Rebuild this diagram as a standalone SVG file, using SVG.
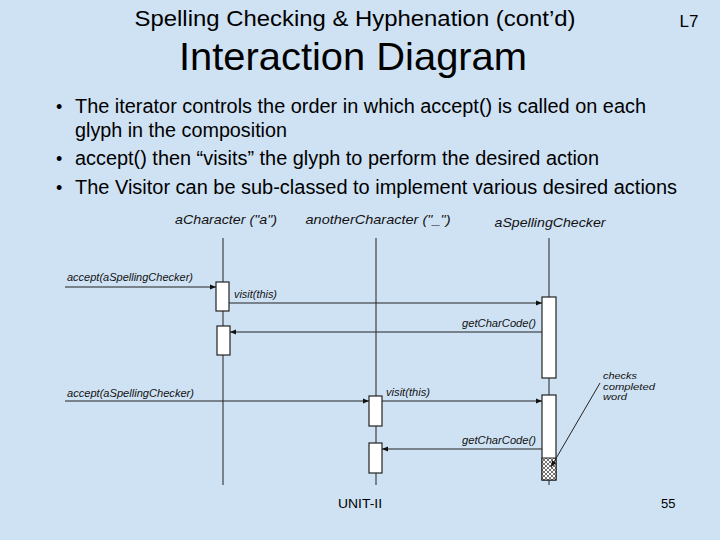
<svg xmlns="http://www.w3.org/2000/svg" width="720" height="540" viewBox="0 0 720 540">
<defs>
<marker id="ah" viewBox="0 0 10 10" refX="10" refY="5" markerWidth="8" markerHeight="6" markerUnits="userSpaceOnUse" orient="auto">
<path d="M0,1 L10,5 L0,9 z" fill="#111"/>
</marker>
<pattern id="hatch" width="4" height="4" patternUnits="userSpaceOnUse">
<rect width="4" height="4" fill="#fff"/>
<path d="M0,4 L4,0 M0,0 L4,4" stroke="#333" stroke-width="0.7"/>
</pattern>
<style>
.t{font-family:"Liberation Sans",Arial,sans-serif;fill:#000}
.h{font-family:"Liberation Sans",Arial,sans-serif;font-style:italic;font-size:13px;fill:#111}
.m{font-family:"Liberation Sans",Arial,sans-serif;font-style:italic;font-size:10.5px;fill:#111}
.n{font-family:"Liberation Sans",Arial,sans-serif;font-style:italic;font-size:9.5px;fill:#111}
.life{stroke:#222;stroke-width:1;fill:none}
.act{fill:#fff;stroke:#222;stroke-width:1.2}
.msg{stroke:#222;stroke-width:1;fill:none;marker-end:url(#ah)}
</style>
</defs>
<rect width="720" height="540" fill="#cfe2f4"/>

<g id="title">
<text class="t" x="355" y="26" font-size="22" text-anchor="middle" textLength="441" lengthAdjust="spacingAndGlyphs">Spelling Checking &amp; Hyphenation (cont’d)</text>
<text class="t" x="689" y="27" font-size="17" text-anchor="middle">L7</text>
<text class="t" x="353" y="70" font-size="39" text-anchor="middle" textLength="348" lengthAdjust="spacingAndGlyphs">Interaction Diagram</text>
</g>

<g id="bullets" class="t" font-size="20">
<text x="56" y="113" font-size="18">•</text>
<text x="75" y="113" textLength="571" lengthAdjust="spacingAndGlyphs">The iterator controls the order in which accept() is called on each</text>
<text x="75" y="137" textLength="212" lengthAdjust="spacingAndGlyphs">glyph in the composition</text>
<text x="56" y="165" font-size="18">•</text>
<text x="75" y="165" textLength="524" lengthAdjust="spacingAndGlyphs">accept() then “visits” the glyph to perform the desired action</text>
<text x="56" y="194" font-size="18">•</text>
<text x="75" y="194" textLength="602" lengthAdjust="spacingAndGlyphs">The Visitor can be sub-classed to implement various desired actions</text>
</g>

<g id="aCharacter">
<text class="h" x="226" y="224" text-anchor="middle" textLength="102" lengthAdjust="spacingAndGlyphs">aCharacter ("a")</text>
<line class="life" x1="223" y1="238" x2="223" y2="485"/>
<rect class="act" x="216" y="282" width="13" height="29"/>
<rect class="act" x="217" y="326" width="13" height="29"/>
</g>

<g id="anotherCharacter">
<text class="h" x="378" y="224" text-anchor="middle" textLength="145" lengthAdjust="spacingAndGlyphs">anotherCharacter ("_")</text>
<line class="life" x1="376" y1="238" x2="376" y2="485"/>
<rect class="act" x="369" y="396" width="13" height="30"/>
<rect class="act" x="369" y="443" width="13" height="30"/>
</g>

<g id="aSpellingChecker">
<text class="h" x="550" y="227" text-anchor="middle" textLength="111" lengthAdjust="spacingAndGlyphs">aSpellingChecker</text>
<line class="life" x1="549" y1="238" x2="549" y2="485"/>
<rect class="act" x="542" y="297" width="14" height="81"/>
<rect class="act" x="542" y="395" width="14" height="85"/>
<rect x="542" y="458" width="14" height="22" fill="url(#hatch)" stroke="#222" stroke-width="1"/>
</g>

<g id="note">
<text class="n" x="603" y="379" textLength="34" lengthAdjust="spacingAndGlyphs">checks</text>
<text class="n" x="603" y="389.5" textLength="52" lengthAdjust="spacingAndGlyphs">completed</text>
<text class="n" x="603" y="400" textLength="24" lengthAdjust="spacingAndGlyphs">word</text>
</g>

<g id="connectors">
<line class="msg" x1="65" y1="287" x2="216" y2="287"/>
<text class="m" x="67" y="281" textLength="126" lengthAdjust="spacingAndGlyphs">accept(aSpellingChecker)</text>
<line class="msg" x1="229" y1="303" x2="542" y2="303"/>
<text class="m" x="234" y="298" textLength="43" lengthAdjust="spacingAndGlyphs">visit(this)</text>
<line class="msg" x1="542" y1="332" x2="230" y2="332"/>
<text class="m" x="462" y="327" textLength="74" lengthAdjust="spacingAndGlyphs">getCharCode()</text>
<line class="msg" x1="65" y1="401" x2="369" y2="401"/>
<text class="m" x="67" y="397" textLength="127" lengthAdjust="spacingAndGlyphs">accept(aSpellingChecker)</text>
<line class="msg" x1="382" y1="401" x2="542" y2="401"/>
<text class="m" x="386" y="396" textLength="44" lengthAdjust="spacingAndGlyphs">visit(this)</text>
<line class="msg" x1="542" y1="449" x2="382" y2="449"/>
<text class="m" x="462" y="444" textLength="74" lengthAdjust="spacingAndGlyphs">getCharCode()</text>
<line class="msg" x1="600" y1="383" x2="551" y2="467"/>
</g>

<g id="footer" class="t" font-size="13">
<text x="338" y="508" textLength="44" lengthAdjust="spacingAndGlyphs">UNIT-II</text>
<text x="661" y="508">55</text>
</g>
</svg>
